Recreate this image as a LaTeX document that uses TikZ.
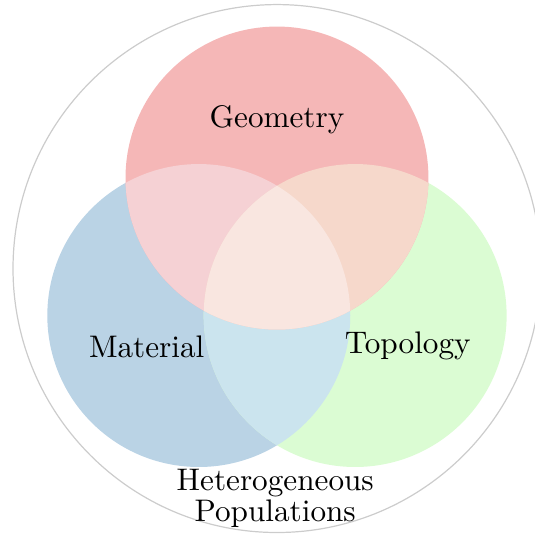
\documentclass[tikz,border=0pt]{standalone}
\usepackage{tikz}

\definecolor{geocol}{HTML}{F5B7B7}
\definecolor{matcol}{HTML}{BAD3E5}
\definecolor{topcol}{HTML}{DBFCD3}
\definecolor{geomatcol}{HTML}{F5D1D4}
\definecolor{geotopcol}{HTML}{F6D8CB}
\definecolor{mattopcol}{HTML}{CBE4EE}
\definecolor{allcol}{HTML}{F9E6E0}

\begin{document}
\begin{tikzpicture}[every node/.style={font=\fontsize{10.3}{10.1}\selectfont}]
        \useasboundingbox (-3.213,-3.068) rectangle (2.993,3.115);
        \draw[gray!40, line width=0.4pt] (0,0) circle (3.062cm);
        % the three sets
        \fill[matcol] (-0.907,-0.545) circle (1.757cm);
        \fill[topcol] (0.907,-0.545) circle (1.757cm);
        \fill[geocol] (0,1.05) circle (1.757cm);
        % two at a time
        \begin{scope}
            \clip (-0.907,-0.545) circle (1.757cm);
            \fill[mattopcol] (0.907,-0.545) circle (1.757cm);
            \fill[geomatcol] (0,1.05) circle (1.757cm);
        \end{scope}
        \begin{scope}
            \clip (0.907,-0.545) circle (1.757cm);
            \fill[geotopcol] (0,1.05) circle (1.757cm);
        \end{scope}
        % all three
        \begin{scope}
            \clip (-0.907,-0.545) circle (1.757cm);
            \clip (0.907,-0.545) circle (1.757cm);
            \fill[allcol] (0,1.05) circle (1.757cm);
        \end{scope}
        \node[anchor=base] (geometry) at (0,1.641) {Geometry};
        \node[anchor=base] (material) at (-1.511,-1.033) {Material};
        \node[anchor=base] (topology) at (1.517,-0.99) {Topology};
        \node[align=center] (popul) at (-0.02,-2.664) {Heterogeneous\\Populations};
    \end{tikzpicture}
\end{document}
